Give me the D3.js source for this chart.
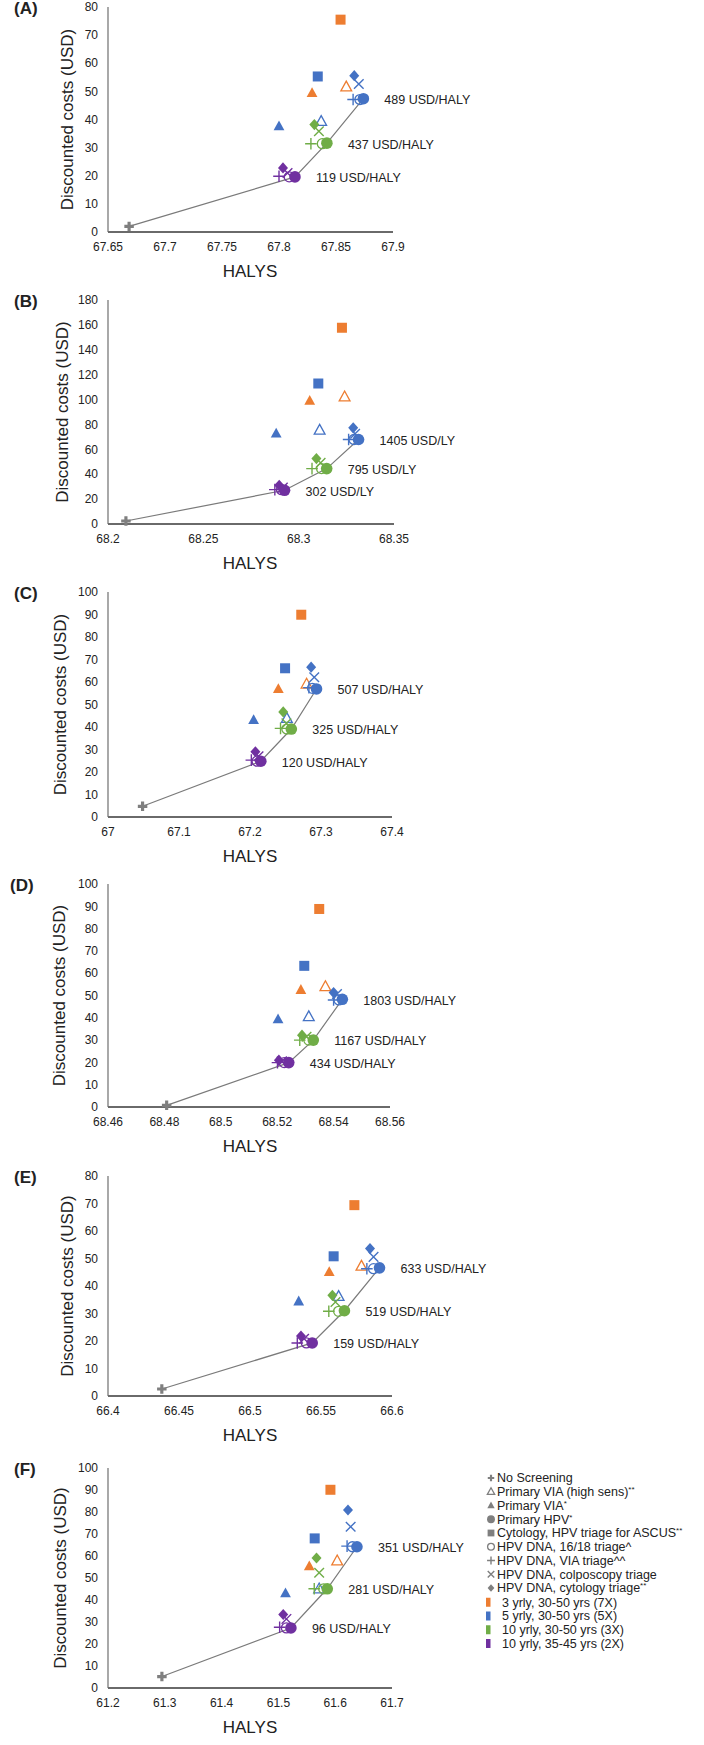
<!DOCTYPE html>
<html><head><meta charset="utf-8">
<script src="https://cdn.jsdelivr.net/npm/d3@7"></script>
<style>
html,body{margin:0;padding:0;background:#fff;}
svg text{font-family:"Liberation Sans",Arial,Helvetica,sans-serif;fill:#222;}
</style></head>
<body><svg id="chart" width="704" height="1745"></svg>
<script>
// ---------- categories ----------
const strategies = ["ns","viaHS","via","hpv","cyto","t1618","viaTri","colpo","cytoTri"];
const strategyLabels = ["No Screening","Primary VIA (high sens)**","Primary VIA*","Primary HPV*",
  "Cytology, HPV triage for ASCUS**","HPV DNA, 16/18 triage^","HPV DNA, VIA triage^^",
  "HPV DNA, colposcopy triage","HPV DNA, cytology triage**"];
const frequencies = ["3y","5y","10y","10y35"];
const frequencyLabels = ["3 yrly, 30-50 yrs (7X)","5 yrly, 30-50 yrs (5X)","10 yrly, 30-50 yrs (3X)","10 yrly, 35-45 yrs (2X)"];
const panelLabels = ["(A)","(B)","(C)","(D)","(E)","(F)"];

// ---------- tick labels ----------
const xTicksA = ["67.65","67.7","67.75","67.8","67.85","67.9"];
const xTicksB = ["68.2","68.25","68.3","68.35"];
const xTicksC = ["67","67.1","67.2","67.3","67.4"];
const xTicksD = ["68.46","68.48","68.5","68.52","68.54","68.56"];
const xTicksE = ["66.4","66.45","66.5","66.55","66.6"];
const xTicksF = ["61.2","61.3","61.4","61.5","61.6","61.7"];
const yTicksA = [0,10,20,30,40,50,60,70,80];
const yTicksB = [0,20,40,60,80,100,120,140,160,180];
const yTicksC = [0,10,20,30,40,50,60,70,80,90,100];
const yTicksD = [0,10,20,30,40,50,60,70,80,90,100];
const yTicksE = [0,10,20,30,40,50,60,70,80];
const yTicksF = [0,10,20,30,40,50,60,70,80,90,100];

// ---------- ICER labels (5 yrly, 10 yrly 30-50, 10 yrly 35-45) ----------
const icerA = ["489 USD/HALY","437 USD/HALY","119 USD/HALY"];
const icerB = ["1405 USD/LY","795 USD/LY","302 USD/LY"];
const icerC = ["507 USD/HALY","325 USD/HALY","120 USD/HALY"];
const icerD = ["1803 USD/HALY","1167 USD/HALY","434 USD/HALY"];
const icerE = ["633 USD/HALY","519 USD/HALY","159 USD/HALY"];
const icerF = ["351 USD/HALY","281 USD/HALY","96 USD/HALY"];

// ---------- series values: [strategy, frequency, HALYs, discounted cost] ----------
const dataA = [
 ["ns","none",67.6685,2.0],
 ["cyto","3y",67.854,75.5],["via","3y",67.829,49.4],["viaHS","3y",67.859,51.6],
 ["cyto","5y",67.834,55.3],["via","5y",67.800,37.6],["viaHS","5y",67.837,39.3],
 ["cytoTri","5y",67.866,55.6],["colpo","5y",67.870,52.6],["viaTri","5y",67.865,47.1],["t1618","5y",67.871,47.1],["hpv","5y",67.874,47.4],
 ["cytoTri","10y",67.831,38.2],["colpo","10y",67.835,35.8],["viaTri","10y",67.828,31.4],["t1618","10y",67.838,31.4],["hpv","10y",67.842,31.6],
 ["cytoTri","10y35",67.8035,22.8],["colpo","10y35",67.8075,21.0],["viaTri","10y35",67.800,19.8],["t1618","10y35",67.809,19.6],["hpv","10y35",67.814,19.6]
];
const dataB = [
 ["ns","none",68.2094,2.4],
 ["cyto","3y",68.3227,157.7],["via","3y",68.3058,99.0],["viaHS","3y",68.3241,102.2],
 ["cyto","5y",68.3103,112.9],["via","5y",68.2882,72.7],["viaHS","5y",68.311,75.4],
 ["cytoTri","5y",68.3286,77.3],["colpo","5y",68.3296,72.5],["viaTri","5y",68.3262,67.9],["t1618","5y",68.329,67.9],["hpv","5y",68.3314,67.9],
 ["cytoTri","10y",68.3093,52.6],["colpo","10y",68.3115,49.1],["viaTri","10y",68.307,44.5],["t1618","10y",68.312,44.5],["hpv","10y",68.3147,44.5],
 ["cytoTri","10y35",68.2898,31.1],["colpo","10y35",68.2917,29.2],["viaTri","10y35",68.2875,27.6],["t1618","10y35",68.291,27.6],["hpv","10y35",68.2926,27.1]
];
const dataC = [
 ["ns","none",67.0487,4.75],
 ["cyto","3y",67.2722,89.9],["via","3y",67.2399,56.9],["viaHS","3y",67.2797,59.1],
 ["cyto","5y",67.2494,66.1],["via","5y",67.2051,43.1],["viaHS","5y",67.2519,43.8],
 ["cytoTri","5y",67.2861,66.6],["colpo","5y",67.2905,62.1],["viaTri","5y",67.283,57.5],["t1618","5y",67.288,57.2],["hpv","5y",67.2937,56.9],
 ["cytoTri","10y",67.2468,46.7],["colpo","10y",67.2513,41.6],["viaTri","10y",67.243,39.4],["t1618","10y",67.2519,39.1],["hpv","10y",67.2582,39.1],
 ["cytoTri","10y35",67.2076,29.0],["colpo","10y35",67.212,27.0],["viaTri","10y35",67.2019,25.3],["t1618","10y35",67.21,24.8],["hpv","10y35",67.2152,24.8]
];
const dataD = [
 ["ns","none",68.4808,0.75],
 ["cyto","3y",68.5349,88.8],["via","3y",68.5284,52.5],["viaHS","3y",68.5371,54.0],
 ["cyto","5y",68.5296,63.3],["via","5y",68.5203,39.3],["viaHS","5y",68.5312,40.5],
 ["cytoTri","5y",68.540,51.3],["colpo","5y",68.5412,50.7],["viaTri","5y",68.540,48.0],["t1618","5y",68.5419,48.0],["hpv","5y",68.5431,48.3],
 ["cytoTri","10y",68.5288,32.2],["colpo","10y",68.5304,31.5],["viaTri","10y",68.528,30.0],["t1618","10y",68.5312,30.0],["hpv","10y",68.5328,30.0],
 ["cytoTri","10y35",68.5206,21.0],["colpo","10y35",68.5217,20.5],["viaTri","10y35",68.5201,19.9],["t1618","10y35",68.5225,19.9],["hpv","10y35",68.5241,19.9]
];
const dataE = [
 ["ns","none",66.4379,2.55],
 ["cyto","3y",66.5735,69.4],["via","3y",66.5558,45.1],["viaHS","3y",66.5785,47.2],
 ["cyto","5y",66.5589,50.8],["via","5y",66.5343,34.4],["viaHS","5y",66.5624,36.2],
 ["cytoTri","5y",66.5845,53.6],["colpo","5y",66.587,50.6],["viaTri","5y",66.5823,46.3],["t1618","5y",66.587,46.3],["hpv","5y",66.5912,46.6],
 ["cytoTri","10y",66.558,36.6],["colpo","10y",66.5602,34.2],["viaTri","10y",66.5555,30.8],["t1618","10y",66.5624,30.8],["hpv","10y",66.5665,31.0],
 ["cytoTri","10y35",66.5359,21.8],["colpo","10y35",66.5381,20.8],["viaTri","10y35",66.5333,19.3],["t1618","10y35",66.5397,19.3],["hpv","10y35",66.5438,19.3]
];
const dataF = [
 ["ns","none",61.2949,5.2],
 ["cyto","3y",61.5916,90.1],["via","3y",61.5544,55.3],["viaHS","3y",61.6035,57.8],
 ["cyto","5y",61.5639,68.0],["via","5y",61.5125,43.1],["viaHS","5y",61.5718,45.1],
 ["cytoTri","5y",61.6225,80.9],["colpo","5y",61.6272,73.3],["viaTri","5y",61.6209,64.5],["t1618","5y",61.6304,64.2],["hpv","5y",61.6383,64.2],
 ["cytoTri","10y",61.5671,59.1],["colpo","10y",61.5718,52.4],["viaTri","10y",61.5631,45.1],["t1618","10y",61.5797,45.1],["hpv","10y",61.586,45.1],
 ["cytoTri","10y35",61.5085,33.4],["colpo","10y35",61.5141,31.4],["viaTri","10y35",61.5022,27.6],["t1618","10y35",61.5141,27.3],["hpv","10y35",61.522,27.3]
];

// ---------- styling / layout ----------
const colorOf = {none:"#7f7f7f","3y":"#ed7d31","5y":"#4472c4","10y":"#70ad47","10y35":"#7030a0"};
const legendGray = "#7f7f7f";
const panels = [
 {data:dataA,xt:xTicksA,yt:yTicksA,icer:icerA},
 {data:dataB,xt:xTicksB,yt:yTicksB,icer:icerB},
 {data:dataC,xt:xTicksC,yt:yTicksC,icer:icerC},
 {data:dataD,xt:xTicksD,yt:yTicksD,icer:icerD},
 {data:dataE,xt:xTicksE,yt:yTicksE,icer:icerE},
 {data:dataF,xt:xTicksF,yt:yTicksF,icer:icerF}
];
const tops = [7,300,592,884,1176,1468];
const bottoms = [232,524,817,1107,1396,1688];
const rights = [393,394,392,390,392,392];
const titleX = [67,62,60,59,67,60];
const left = 108;

const svg = d3.select("#chart");

function marker(g, strat, color, s){
  s = s || 1;
  switch(strat){
    case "ns":
      g.append("path").attr("d", d3.symbol(d3.symbolCross, 50*s*s)()).attr("fill", color); break;
    case "viaHS":
      g.append("path").attr("d", `M0,${-5.8*s}L${5.4*s},${4*s}L${-5.4*s},${4*s}Z`).attr("fill","none").attr("stroke",color).attr("stroke-width",1.3); break;
    case "via":
      g.append("path").attr("d", `M0,${-5.8*s}L${5.4*s},${4*s}L${-5.4*s},${4*s}Z`).attr("fill",color); break;
    case "hpv":
      g.append("circle").attr("r",5.8*s).attr("fill",color); break;
    case "cyto":
      g.append("rect").attr("x",-5*s).attr("y",-5*s).attr("width",10*s).attr("height",10*s).attr("fill",color); break;
    case "t1618":
      g.append("circle").attr("r",5*s).attr("fill","none").attr("stroke",color).attr("stroke-width",1.3); break;
    case "viaTri":
      g.append("path").attr("d",`M${-5.8*s},0H${5.8*s}M0,${-5.8*s}V${5.8*s}`).attr("stroke",color).attr("stroke-width",1.4); break;
    case "colpo":
      g.append("path").attr("d",`M${-4.8*s},${-4.8*s}L${4.8*s},${4.8*s}M${-4.8*s},${4.8*s}L${4.8*s},${-4.8*s}`).attr("stroke",color).attr("stroke-width",1.4); break;
    case "cytoTri":
      g.append("path").attr("d",`M0,${-5.6*s}L${5*s},0L0,${5.6*s}L${-5*s},0Z`).attr("fill",color); break;
  }
}

const drawOrder = ["cyto","via","viaHS","ns","cytoTri","colpo","viaTri","t1618","hpv"];

panels.forEach((p,i)=>{
  const x = d3.scaleLinear().domain([+p.xt[0], +p.xt[p.xt.length-1]]).range([left, rights[i]]);
  const y = d3.scaleLinear().domain([0, d3.max(p.yt)]).range([bottoms[i], tops[i]]);
  const g = svg.append("g");

  g.selectAll(".yl").data(p.yt).join("text")
    .attr("x", left-10).attr("y", d=>y(d)).attr("dy","0.35em")
    .attr("text-anchor","end").attr("font-size",12).text(d=>d);
  g.selectAll(".xl").data(p.xt).join("text")
    .attr("x", d=>x(+d)).attr("y", bottoms[i]+15).attr("dy","0.35em")
    .attr("text-anchor","middle").attr("font-size",12).text(d=>d);

  g.append("line").attr("x1",left).attr("x2",left).attr("y1",tops[i]).attr("y2",bottoms[i])
    .attr("stroke","#7a7a7a").attr("stroke-width",1.3);
  g.append("line").attr("x1",left).attr("x2",rights[i]).attr("y1",bottoms[i]).attr("y2",bottoms[i])
    .attr("stroke","#6a6a6a").attr("stroke-width",2);

  g.append("text").attr("transform",`translate(${titleX[i]},${(tops[i]+bottoms[i])/2}) rotate(-90)`)
    .attr("text-anchor","middle").attr("dy","0.35em").attr("font-size",17).text("Discounted costs (USD)");
  g.append("text").attr("x",250).attr("y",bottoms[i]+39).attr("dy","0.35em")
    .attr("text-anchor","middle").attr("font-size",17).text("HALYS");
  g.append("text").attr("x", i===3?10:14).attr("y",tops[i]+1).attr("dy","0.35em")
    .attr("font-size",17).attr("font-weight","bold").text(panelLabels[i]);

  const ns = p.data.find(d=>d[0]==="ns");
  const front = [ns].concat(["10y35","10y","5y"].map(f=>p.data.find(d=>d[0]==="hpv"&&d[1]===f)));
  g.append("path").attr("d", d3.line().x(d=>x(d[2])).y(d=>y(d[3]))(front))
    .attr("fill","none").attr("stroke","#7a7a7a").attr("stroke-width",1.2);

  const sorted = p.data.slice().sort((a,b)=>drawOrder.indexOf(a[0])-drawOrder.indexOf(b[0]));
  sorted.forEach(d=>{
    const mg = g.append("g").attr("transform",`translate(${x(d[2])},${y(d[3])})`);
    marker(mg, d[0], colorOf[d[1]]);
  });

  ["5y","10y","10y35"].forEach((f,k)=>{
    const h = p.data.find(d=>d[0]==="hpv"&&d[1]===f);
    g.append("text").attr("x", x(h[2])+21).attr("y", y(h[3])+1).attr("dy","0.35em")
      .attr("font-size",12.5).text(p.icer[k]);
  });
});

// ---------- legend ----------
const lg = svg.append("g");
const rowY = k => 1478 + k*13.75;
function labelText(t, txt){
  const m = txt.match(/^(.*?)(\*+)$/);
  if(m){
    t.append("tspan").text(m[1]);
    t.append("tspan").attr("font-size",8).attr("dy",-4).text(m[2]);
  } else t.text(txt);
}
strategies.forEach((s,k)=>{
  const mg = lg.append("g").attr("transform",`translate(491,${rowY(k)})`);
  marker(mg, s, legendGray, 0.68);
  const t = lg.append("text").attr("x",497).attr("y",rowY(k)).attr("dy","0.35em").attr("font-size",12.5);
  labelText(t, strategyLabels[k]);
});
frequencies.forEach((f,k)=>{
  const yy = rowY(strategies.length + k) + 0.5;
  lg.append("rect").attr("x",486).attr("y",yy-4.5).attr("width",4.5).attr("height",9).attr("fill",colorOf[f]);
  lg.append("text").attr("x",502).attr("y",yy).attr("dy","0.35em").attr("font-size",12.5).text(frequencyLabels[k]);
});
</script></body></html>
